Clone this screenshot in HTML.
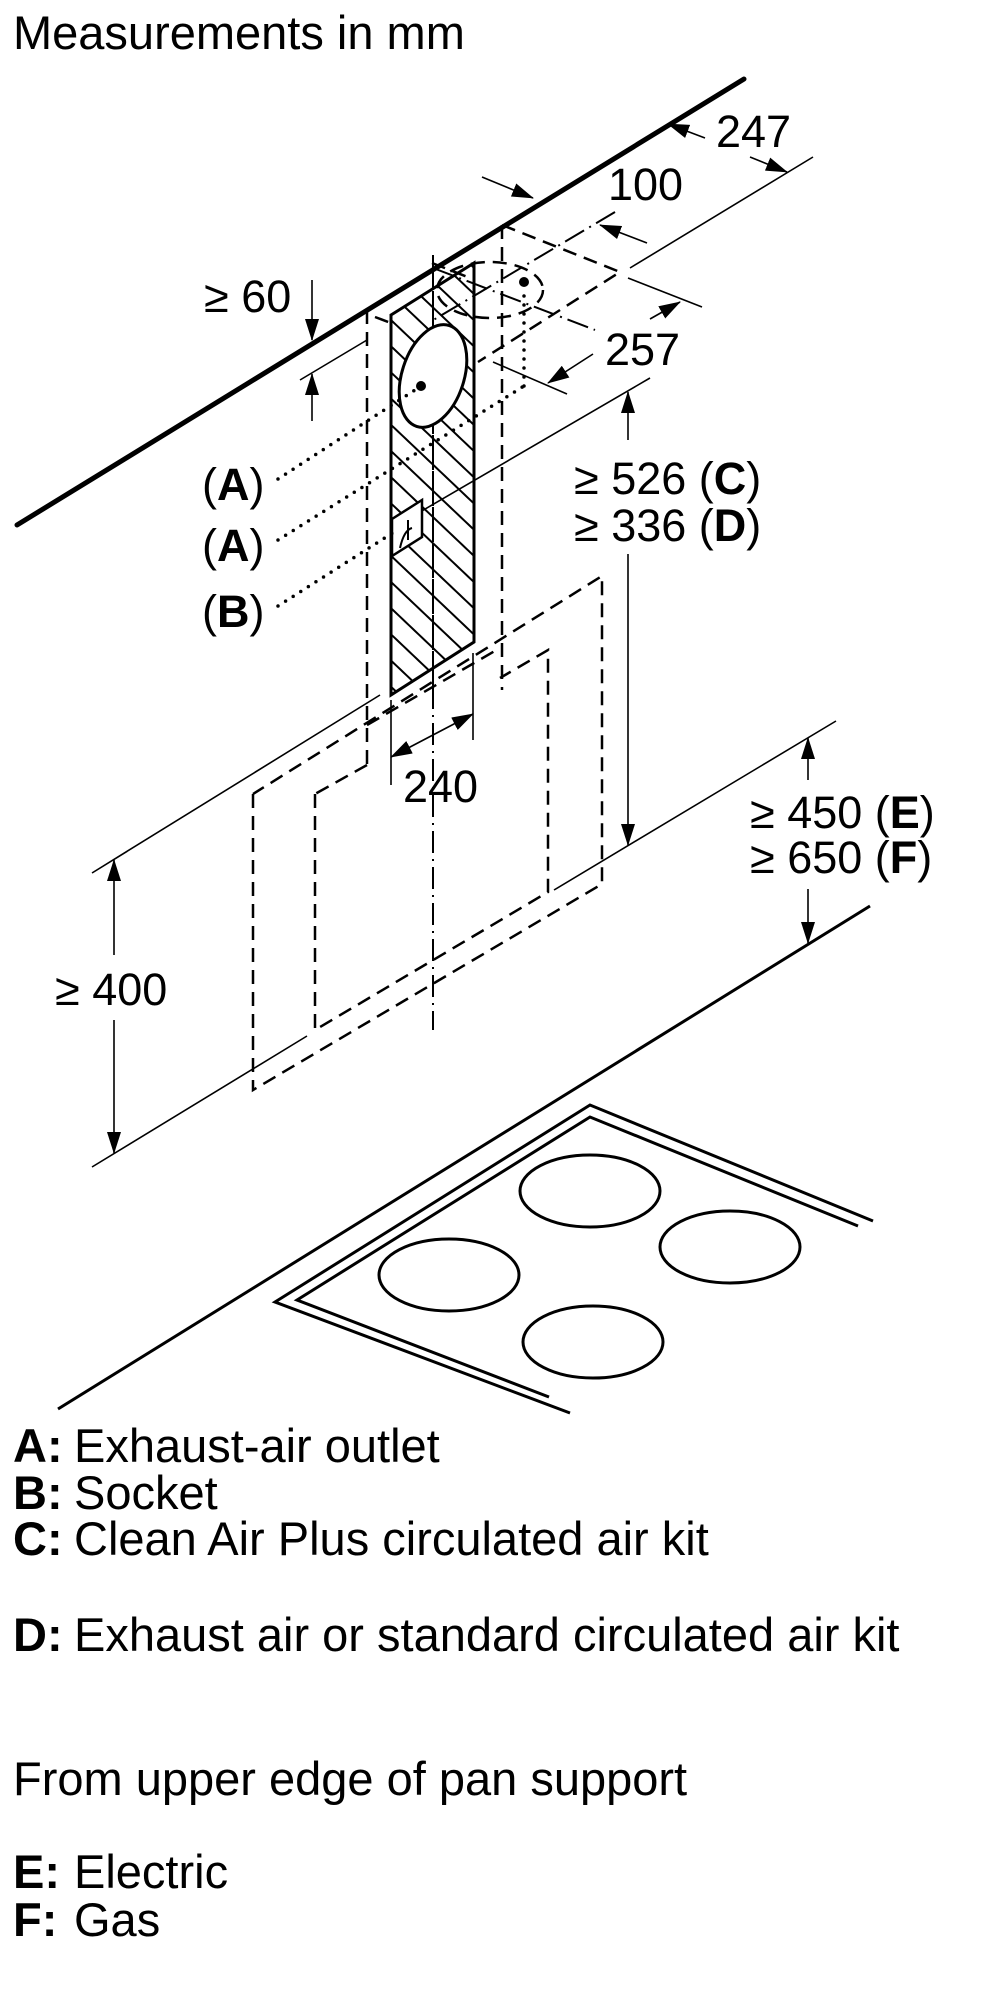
<!DOCTYPE html>
<html><head><meta charset="utf-8"><style>
html,body{margin:0;padding:0;background:#fff;}
svg{display:block;}
text{font-family:"Liberation Sans",Arial,sans-serif;fill:#000;}
</style></head><body>
<svg width="1000" height="2000" viewBox="0 0 1000 2000" xmlns="http://www.w3.org/2000/svg">
<defs>
<marker id="ah" markerUnits="userSpaceOnUse" markerWidth="22" markerHeight="14" refX="21" refY="7" orient="auto-start-reverse"><path d="M0,0 L22,7 L0,14 z" fill="#000"/></marker>
<pattern id="hatch" patternUnits="userSpaceOnUse" width="40" height="19" patternTransform="rotate(43.5)"><line x1="0" y1="1" x2="40" y2="1" stroke="#000" stroke-width="2"/></pattern>
</defs>

<text x="13" y="49" font-size="47">Measurements in mm</text>

<line x1="17" y1="525" x2="744" y2="79" stroke="#000" stroke-width="5" stroke-linecap="round"/>

<g stroke="#000" fill="none" stroke-width="1.6">
<line x1="813" y1="157" x2="630" y2="268"/>
<line x1="705" y1="138" x2="668" y2="124" marker-end="url(#ah)"/>
<line x1="750" y1="157" x2="787" y2="172" marker-end="url(#ah)"/>
<line x1="482" y1="177" x2="533" y2="198" marker-end="url(#ah)"/>
<line x1="647" y1="243" x2="600" y2="225" marker-end="url(#ah)"/>
<line x1="628" y1="278" x2="702" y2="307"/>
<line x1="493" y1="362" x2="567" y2="394"/>
<line x1="650" y1="319" x2="680" y2="302" marker-end="url(#ah)"/>
<line x1="593" y1="354" x2="548" y2="383" marker-end="url(#ah)"/>
<line x1="650" y1="378" x2="420" y2="512"/>
<line x1="628" y1="440" x2="628" y2="392" marker-end="url(#ah)"/>
<line x1="628" y1="554" x2="628" y2="845" marker-end="url(#ah)"/>
<line x1="554" y1="890" x2="836" y2="721"/>
<line x1="808" y1="780" x2="808" y2="738" marker-end="url(#ah)"/>
<line x1="808" y1="889" x2="808" y2="943" marker-end="url(#ah)"/>
<line x1="92" y1="873" x2="380" y2="695"/>
<line x1="92" y1="1167" x2="307" y2="1036"/>
<line x1="114" y1="955" x2="114" y2="860" marker-end="url(#ah)"/>
<line x1="114" y1="1020" x2="114" y2="1153" marker-end="url(#ah)"/>
<line x1="300" y1="380" x2="367" y2="340"/>
<line x1="312" y1="280" x2="312" y2="340" marker-end="url(#ah)"/>
<line x1="312" y1="421" x2="312" y2="374" marker-end="url(#ah)"/>
<line x1="391" y1="700" x2="391" y2="785"/>
<line x1="473" y1="653" x2="473" y2="740"/>
<line x1="391" y1="757" x2="473" y2="714" marker-start="url(#ah)" marker-end="url(#ah)"/>
</g>

<g stroke="#000" fill="none" stroke-width="2.5" stroke-dasharray="14 8">
<line x1="502" y1="225" x2="502" y2="690"/>
<polyline points="502,225 620,272 478,362"/>
<line x1="432" y1="263" x2="470" y2="278"/>
<ellipse cx="490" cy="290" rx="53" ry="28"/>
<line x1="367" y1="310" x2="367" y2="765"/>
<line x1="375" y1="317" x2="391" y2="323"/>
<line x1="367" y1="765" x2="315" y2="794"/>
<line x1="367" y1="725" x2="500" y2="648"/>
<polyline points="315,794 315,1030 548,892 548,650 500,678"/>
<polyline points="253,794 253,1090 602,884 602,576 253,794"/>
</g>

<g stroke="#000" fill="none" stroke-width="2" stroke-dasharray="22 6 2 6">
<line x1="433" y1="255" x2="433" y2="1030"/>
<line x1="615" y1="212" x2="430" y2="322"/>
<line x1="433" y1="268" x2="595" y2="330"/>
</g>

<polygon points="391,315 474,263 474,642 391,695" fill="url(#hatch)" stroke="#000" stroke-width="3"/>
<line x1="433" y1="268" x2="433" y2="700" stroke="#000" stroke-width="2" stroke-dasharray="22 6 2 6"/>
<ellipse cx="433" cy="376" rx="31" ry="53" transform="rotate(18 433 376)" fill="#fff" stroke="#000" stroke-width="3"/>
<circle cx="421" cy="386" r="5" fill="#000"/>
<circle cx="524" cy="282" r="5" fill="#000"/>
<polygon points="392,519 422,500 422,537 392,556" fill="#fff" stroke="#000" stroke-width="2.5"/>
<path d="M400,548 Q404,530 412,528 M408,520 L408,540" stroke="#000" stroke-width="2" fill="none"/>

<g stroke="#000" fill="none" stroke-width="3.5" stroke-linecap="round" stroke-dasharray="0 9">
<line x1="278" y1="479" x2="418" y2="388"/>
<line x1="278" y1="540" x2="524" y2="386"/>
<line x1="524" y1="386" x2="524" y2="292"/>
<line x1="278" y1="606" x2="394" y2="532"/>
</g>

<g font-size="45">
<text x="202" y="500">(<tspan font-weight="bold">A</tspan>)</text>
<text x="202" y="561">(<tspan font-weight="bold">A</tspan>)</text>
<text x="202" y="627">(<tspan font-weight="bold">B</tspan>)</text>
<text x="716" y="147">247</text>
<text x="608" y="200">100</text>
<text x="605" y="365">257</text>
<text x="204" y="312">≥ 60</text>
<text x="574" y="494">≥ 526 (<tspan font-weight="bold">C</tspan>)</text>
<text x="574" y="541">≥ 336 (<tspan font-weight="bold">D</tspan>)</text>
<text x="750" y="828">≥ 450 (<tspan font-weight="bold">E</tspan>)</text>
<text x="750" y="873">≥ 650 (<tspan font-weight="bold">F</tspan>)</text>
<text x="403" y="802">240</text>
<text x="55" y="1005">≥ 400</text>
</g>

<line x1="870" y1="906" x2="58" y2="1409" stroke="#000" stroke-width="3"/>
<g stroke="#000" fill="none" stroke-width="3">
<polyline points="873,1221 590,1105 275,1302 570,1413"/>
<polyline points="858,1226 590,1117 297,1300 549,1397"/>
<ellipse cx="590" cy="1191" rx="70" ry="36"/>
<ellipse cx="449" cy="1275" rx="70" ry="36"/>
<ellipse cx="730" cy="1247" rx="70" ry="36"/>
<ellipse cx="593" cy="1342" rx="70" ry="36"/>
</g>

<g font-size="47">
<text x="13" y="1462"><tspan font-weight="bold">A:</tspan><tspan x="74">Exhaust-air outlet</tspan></text>
<text x="13" y="1509"><tspan font-weight="bold">B:</tspan><tspan x="74">Socket</tspan></text>
<text x="13" y="1555"><tspan font-weight="bold">C:</tspan><tspan x="74">Clean Air Plus circulated air kit</tspan></text>
<text x="13" y="1651"><tspan font-weight="bold">D:</tspan><tspan x="74">Exhaust air or standard circulated air kit</tspan></text>
<text x="13" y="1795">From upper edge of pan support</text>
<text x="13" y="1888"><tspan font-weight="bold">E:</tspan><tspan x="74">Electric</tspan></text>
<text x="13" y="1936"><tspan font-weight="bold">F:</tspan><tspan x="74">Gas</tspan></text>
</g>
</svg>
</body></html>
